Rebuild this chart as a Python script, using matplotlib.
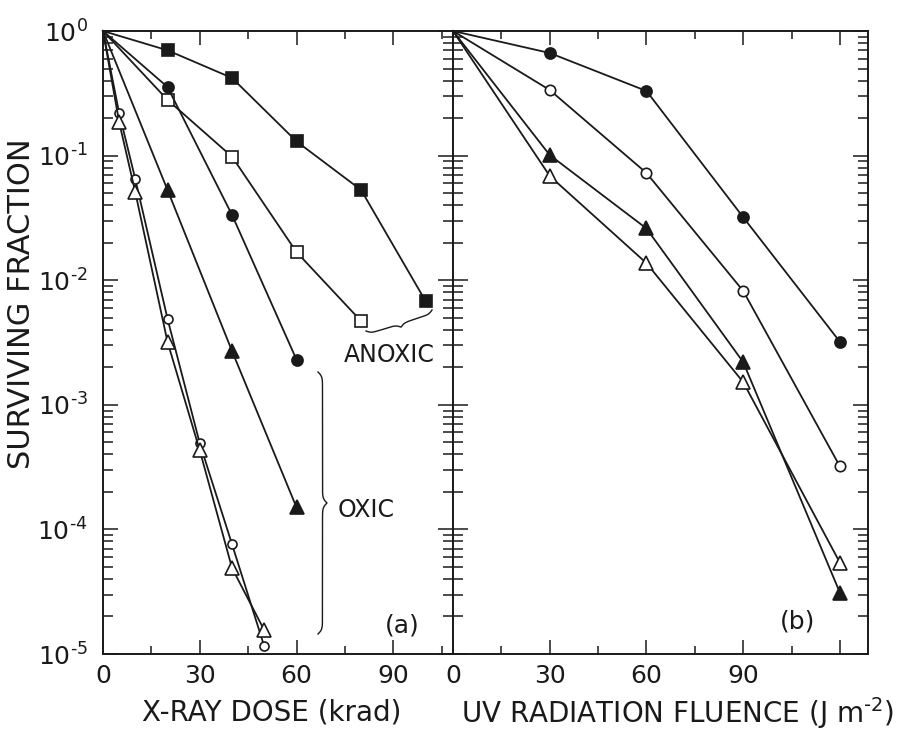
import numpy as np
import matplotlib
matplotlib.use("Agg")
import matplotlib.pyplot as plt
from matplotlib.lines import Line2D
from matplotlib.ticker import (LogLocator, FixedLocator, FixedFormatter,
                               NullFormatter, FuncFormatter)

# ---------------- data ----------------
# Panel (a): X-ray dose (krad)
xa_fsq = [0, 20, 40, 60, 80, 100]
ya_fsq = [1, 0.70, 0.42, 0.13, 0.053, 0.0068]
xa_osq = [0, 20, 40, 60, 80]
ya_osq = [1, 0.28, 0.098, 0.0168, 0.0047]
xa_fci = [0, 20, 40, 60]
ya_fci = [1, 0.355, 0.0334, 0.0023]
xa_ftr = [0, 20, 40, 60]
ya_ftr = [1, 0.053, 0.0027, 1.5e-4]
xa_oci = [0, 5, 10, 20, 30, 40, 50]
ya_oci = [1, 0.22, 0.065, 0.0049, 4.9e-4, 7.6e-5, 1.15e-5]
xa_otr = [0, 5, 10, 20, 30, 40, 50]
ya_otr = [1, 0.186, 0.051, 0.0032, 4.3e-4, 4.9e-5, 1.55e-5]

# Panel (b): UV fluence (J m^-2)
xb = [0, 30, 60, 90, 120]
yb_fci = [1, 0.666, 0.33, 0.032, 0.0032]
yb_oci = [1, 0.336, 0.0725, 0.0082, 3.2e-4]
yb_ftr = [1, 0.101, 0.026, 2.2e-3, 3.1e-5]
yb_otr = [1, 0.0686, 0.0137, 1.52e-3, 5.4e-5]

xa_major = [0, 30, 60, 90]
xa_minor = [15, 45, 75, 105]
xa_labels = ["0", "30", "60", "90"]
xb_major = [0, 30, 60, 90, 120]
xb_minor = [15, 45, 75, 105]
xb_labels = ["0", "30", "60", "90", ""]

HY = "\u2010"  # short hyphen for exponents

# ---------------- figure ----------------
W, H = 922, 730
fig = plt.figure(figsize=(W / 100, H / 100), dpi=100)


def fx(x):
    return x / W


def fy(y):
    return 1 - y / H


ax_a = fig.add_axes([fx(103), fy(654), 350 / W, 623 / H])
ax_b = fig.add_axes([fx(453), fy(654), 415 / W, 623 / H])


def ylab(v, pos):
    e = int(round(np.log10(v)))
    s = str(e).replace("-", HY)
    return "$10^{" + s + "}$"


def style(ax, xmax, major, minor, labels, show_y):
    ax.set_yscale("log")
    ax.set_ylim(1e-5, 1)
    ax.set_xlim(0, xmax)
    ax.xaxis.set_major_locator(FixedLocator(major))
    ax.xaxis.set_major_formatter(FixedFormatter(labels))
    ax.xaxis.set_minor_locator(FixedLocator(minor))
    ax.yaxis.set_major_locator(LogLocator(base=10, numticks=10))
    ax.yaxis.set_major_formatter(FuncFormatter(ylab))
    ax.yaxis.set_minor_locator(LogLocator(base=10, subs=np.arange(2, 10), numticks=20))
    ax.yaxis.set_minor_formatter(NullFormatter())
    ax.tick_params(which="both", direction="in", top=True, right=True,
                   left=True, bottom=True, width=1.1, colors="#1a1a1a",
                   labelsize=18)
    ax.tick_params(axis="x", which="major", length=10, pad=7)
    ax.tick_params(axis="x", which="minor", length=6)
    ax.tick_params(axis="y", which="major", length=11, pad=11)
    ax.tick_params(axis="y", which="minor", length=7)
    if not show_y:
        ax.tick_params(axis="y", which="both", labelleft=False)
    for s in ax.spines.values():
        s.set_linewidth(1.4)
        s.set_color("#1a1a1a")


style(ax_a, 108.5, xa_major, xa_minor, xa_labels, True)
style(ax_b, 128.7, xb_major, xb_minor, xb_labels, False)

lc = "#1a1a1a"


def series(ax, x, y, marker, filled, ms):
    ax.plot(x, y, color=lc, lw=1.3, marker=marker, markevery=list(range(1, len(x))),
            markersize=ms, markerfacecolor=lc if filled else "white",
            markeredgecolor=lc, markeredgewidth=1.2, clip_on=False, zorder=3)


series(ax_a, xa_fsq, ya_fsq, "s", True, 8.5)
series(ax_a, xa_osq, ya_osq, "s", False, 8.5)
series(ax_a, xa_fci, ya_fci, "o", True, 8)
series(ax_a, xa_ftr, ya_ftr, "^", True, 10)
series(ax_a, xa_oci, ya_oci, "o", False, 6.5)
series(ax_a, xa_otr, ya_otr, "^", False, 10)

series(ax_b, xb, yb_fci, "o", True, 8)
series(ax_b, xb, yb_oci, "o", False, 7.5)
series(ax_b, xb, yb_ftr, "^", True, 10)
series(ax_b, xb, yb_otr, "^", False, 10)


# ---------------- braces ----------------
def brace(p0, p1, w, normal, curl=9):
    p0 = np.array(p0, float)
    p1 = np.array(p1, float)
    d = p1 - p0
    L = np.hypot(*d)
    n = np.array(normal, float)
    n = n / np.hypot(*n)
    beta = 4 * L / curl
    t = np.linspace(0, 1, 801)
    sh = np.minimum(t, 1 - t)
    yv = 1 / (1 + np.exp(-beta * sh)) + 1 / (1 + np.exp(-beta * (sh - 0.5))) - 0.5
    pts = p0[None, :] + t[:, None] * d[None, :] + (yv * w)[:, None] * n[None, :]
    fig.add_artist(Line2D(fx(pts[:, 0]), fy(pts[:, 1]), transform=fig.transFigure,
                          color=lc, lw=1.0))


brace((366, 331), (432, 310), 7, (0.295, 0.955))
brace((318, 372), (318, 634), 9, (1, 0))

# ---------------- texts ----------------
fig.text(fx(389), fy(355), "ANOXIC", ha="center", va="center", fontsize=17, color=lc)
fig.text(fx(366), fy(510), "OXIC", ha="center", va="center", fontsize=17, color=lc)
fig.text(fx(402), fy(625), "(a)", ha="center", va="center", fontsize=18, color=lc)
fig.text(fx(798), fy(622), "(b)", ha="center", va="center", fontsize=18, color=lc)

fig.text(fx(272), fy(713), "X-RAY DOSE (krad)", ha="center", va="center",
         fontsize=20, color=lc)
fig.text(fx(677), fy(713), "UV RADIATION FLUENCE (J m$^{" + HY + "2}$)",
         ha="center", va="center", fontsize=20, color=lc)
fig.text(fx(22), fy(304), "SURVIVING FRACTION", ha="center", va="center",
         rotation=90, fontsize=22, color=lc)

fig.savefig("out.png", dpi=100)
